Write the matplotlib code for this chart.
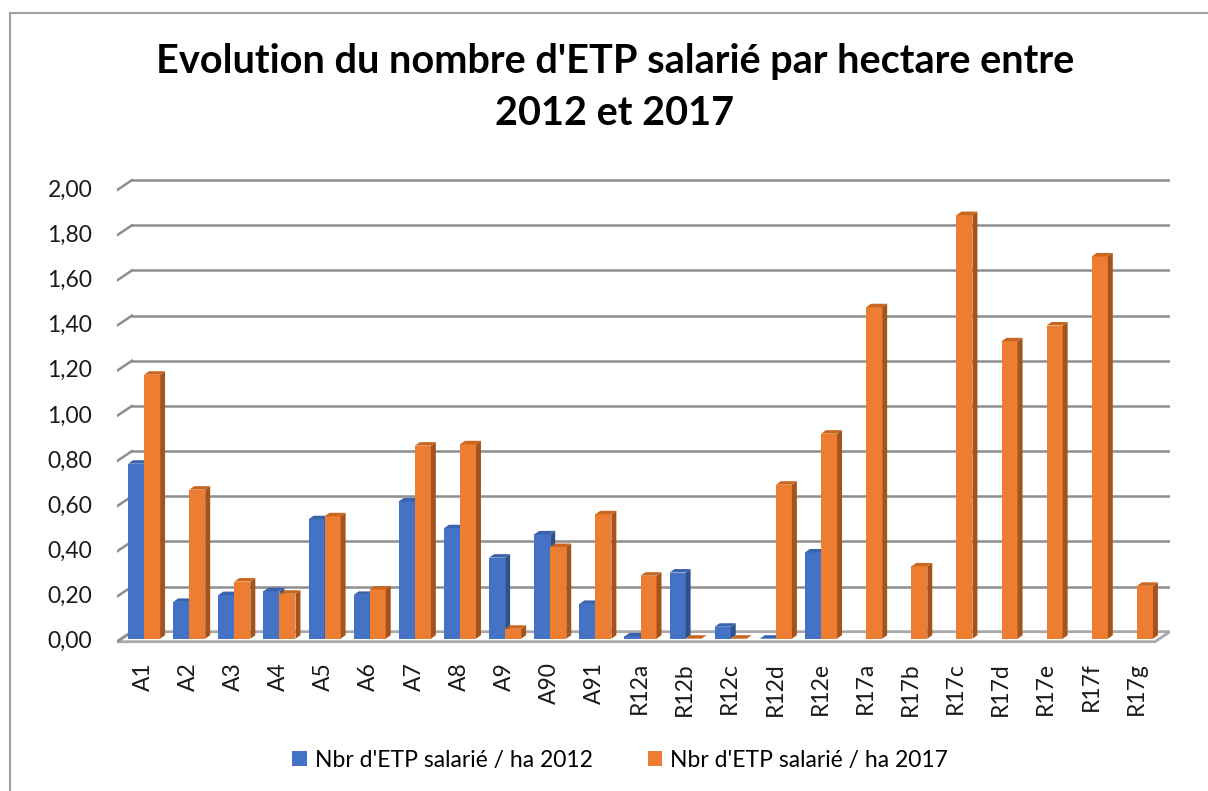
import numpy as np
import matplotlib
matplotlib.use('Agg')
from matplotlib import pyplot as plt
from matplotlib.patches import Polygon, Patch
from matplotlib.lines import Line2D

categories = ['A1', 'A2', 'A3', 'A4', 'A5', 'A6', 'A7', 'A8', 'A9', 'A90', 'A91',
              'R12a', 'R12b', 'R12c', 'R12d', 'R12e',
              'R17a', 'R17b', 'R17c', 'R17d', 'R17e', 'R17f', 'R17g']
etp_2012 = [0.775, 0.163, 0.193, 0.21, 0.529, 0.194, 0.608, 0.489, 0.359, 0.462, 0.154,
            0.01, 0.293, 0.053, 0.0, 0.382,
            np.nan, np.nan, np.nan, np.nan, np.nan, np.nan, np.nan]
etp_2017 = [1.169, 0.66, 0.253, 0.199, 0.542, 0.218, 0.855, 0.861, 0.044, 0.406, 0.551,
            0.279, 0.0, 0.0, 0.682, 0.908,
            1.468, 0.32, 1.876, 1.317, 1.387, 1.693, 0.234]
yticks = [0.0, 0.2, 0.4, 0.6, 0.8, 1.0, 1.2, 1.4, 1.6, 1.8, 2.0]
labels = ["Nbr d'ETP salarié / ha 2012", "Nbr d'ETP salarié / ha 2017"]
title1 = "Evolution du nombre d'ETP salarié par hectare entre"
title2 = "2012 et 2017"

plt.rcParams['font.family'] = ['Lato', 'DejaVu Sans']

W, H = 1208, 791
fig = plt.figure(figsize=(W/100, H/100), dpi=100)

# pixel geometry of the plot area (front plane)
px_left, px_zero = 117, 641.7
px_cat = 45.13
px_val = 225.8
ncat = len(categories)
depth_x, depth_y = 0.333, 0.0444      # floor depth in data units
ylo, yhi = -0.02, 2.08
xlo, xhi = 0, ncat + depth_x
ax = fig.add_axes([px_left/W, (H - (px_zero - ylo*px_val))/H,
                   (xhi - xlo)*px_cat/W, (yhi - ylo)*px_val/H])
ax.set_xlim(xlo, xhi)
ax.set_ylim(ylo, yhi)
ax.axis('off')

fs = 16.5
gridc = '#8e8e8e'
# floor
ax.add_patch(Polygon([(0, 0), (ncat, 0), (ncat + depth_x, depth_y), (depth_x, depth_y)],
                     closed=True, facecolor='white', edgecolor='#a9a9a9', lw=2, zorder=1))
# gridlines on back wall with left stubs
for v in yticks:
    if v > 0:
        ax.plot([depth_x, ncat + depth_x], [v + depth_y, v + depth_y], color=gridc, lw=1.8, zorder=1)
    ax.plot([0, depth_x], [v, v + depth_y], color=gridc, lw=1.8, zorder=1)
    ax.text(-0.55, v, ('%.2f' % v).replace('.', ','), ha='right', va='center',
            fontsize=fs, color='#1a1a1a')

# bars
bw = 0.355
base = 0.0133
sx, sy = 0.11, 0.0155
series = [(etp_2012, 0.245, '#4472c4', '#2f528f', '#3a63ad'),
          (etp_2017, 0.60, '#ed7d31', '#a5531d', '#c9661f')]
z = 2
for i in range(ncat):
    for vals, off, front, side, top in series:
        v = vals[i]
        if np.isnan(v):
            continue
        x0 = i + off
        ax.bar(x0, v, width=bw, bottom=base, align='edge', color=front, lw=0, zorder=z)
        ax.add_patch(Polygon([(x0 + bw, base), (x0 + bw + sx, base + sy),
                              (x0 + bw + sx, base + v + sy), (x0 + bw, base + v)],
                             closed=True, facecolor=side, lw=0, zorder=z))
        ax.add_patch(Polygon([(x0, base + v), (x0 + bw, base + v),
                              (x0 + bw + sx, base + v + sy), (x0 + sx, base + v + sy)],
                             closed=True, facecolor=top, lw=0, zorder=z))
        z += 1
    ax.text(i + 0.58, -0.09, categories[i], rotation=90, ha='center', va='top',
            fontsize=fs, color='#1a1a1a', clip_on=False)

# titles
fig.text(615/W, 1 - 73/H, title1, ha='center', va='baseline', fontsize=28.5,
         fontweight='bold', color='black')
fig.text(615/W, 1 - 125/H, title2, ha='center', va='baseline', fontsize=28.5,
         fontweight='bold', color='black')

# legend
handles = [Patch(facecolor='#4472c4'), Patch(facecolor='#ed7d31')]
fig.legend(handles, labels, ncol=2, loc='center', bbox_to_anchor=(620/W, 1 - 760/H),
           frameon=False, fontsize=fs, handlelength=0.65, handleheight=0.65,
           handletextpad=0.35, columnspacing=2.4)

# chart border: only the left and top edges fall inside the picture
bx, by = 10/W, 1 - 13/H
fig.add_artist(Line2D([bx, bx], [0, by], transform=fig.transFigure, color='#a0a0a0', lw=1.5))
fig.add_artist(Line2D([bx, 1], [by, by], transform=fig.transFigure, color='#a0a0a0', lw=1.5))

fig.savefig('out.png', dpi=100)
